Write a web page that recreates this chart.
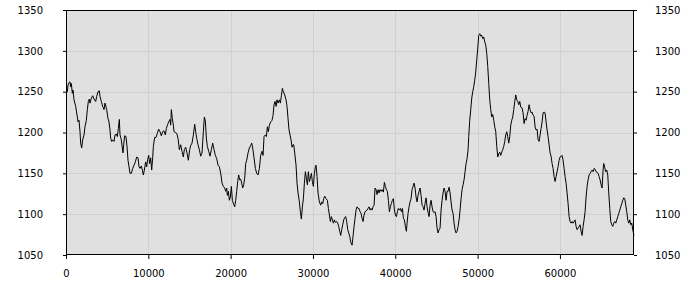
<!DOCTYPE html>
<html>
<head>
<meta charset="utf-8">
<script src="https://cdn.jsdelivr.net/npm/d3@7"></script>
<style>
  body { margin: 0; background: #fff; }
  .axis text { font-family: "DejaVu Sans", Verdana, sans-serif; font-size: 10px; fill: #000; }
</style>
</head>
<body>
<div class="chart-section"></div>
<script>
const distance = [
  0, 162, 243, 365, 486, 567, 648, 770, 851, 972, 1175, 1377, 1458, 1580, 1701, 1782, 1904, 2025, 2187, 2309,
  2471, 2592, 2714, 2835, 2916, 3078, 3240, 3402, 3605, 3726, 3888, 4050, 4131, 4293, 4455, 4617, 4739, 4941, 5103, 5225,
  5346, 5427, 5549, 5670, 5832, 5954, 6116, 6237, 6359, 6480, 6561, 6723, 6845, 6926, 7007, 7128, 7290, 7412, 7533, 7655,
  7776, 7938, 8100, 8262, 8424, 8586, 8748, 8870, 8991, 9153, 9275, 9396, 9518, 9680, 9801, 9923, 10044, 10166, 10287, 10409,
  10530, 10611, 10773, 10935, 11097, 11259, 11421, 11583, 11745, 11907, 12069, 12191, 12353, 12474, 12636, 12717, 12798, 12920, 13041, 13122,
  13284, 13446, 13608, 13770, 13932, 14094, 14256, 14378, 14540, 14702, 14864, 15026, 15147, 15309, 15471, 15633, 15755, 15876, 16038, 16200,
  16362, 16524, 16686, 16808, 16929, 17051, 17172, 17334, 17496, 17658, 17820, 17982, 18144, 18306, 18468, 18630, 18792, 18954, 19116, 19278,
  19400, 19521, 19602, 19724, 19845, 19967, 20088, 20210, 20372, 20493, 20615, 20736, 20858, 20979, 21101, 21222, 21344, 21465, 21587, 21708,
  21830, 21951, 22113, 22275, 22437, 22559, 22680, 22842, 23004, 23166, 23328, 23490, 23652, 23814, 23936, 24057, 24219, 24341, 24462, 24584,
  24705, 24867, 25029, 25151, 25272, 25394, 25515, 25637, 25758, 25920, 26042, 26163, 26285, 26406, 26568, 26730, 26852, 26973, 27095, 27216,
  27338, 27459, 27581, 27662, 27783, 27945, 28067, 28188, 28350, 28472, 28593, 28715, 28836, 28958, 29079, 29201, 29322, 29444, 29565, 29687,
  29808, 29930, 30051, 30173, 30294, 30375, 30497, 30618, 30780, 30942, 31064, 31185, 31307, 31428, 31590, 31752, 31874, 31995, 32117, 32238,
  32360, 32481, 32603, 32724, 32886, 33008, 33129, 33251, 33372, 33494, 33615, 33737, 33858, 33980, 34101, 34223, 34344, 34466, 34587, 34749,
  34871, 34992, 35114, 35235, 35357, 35478, 35600, 35721, 35843, 35964, 36086, 36207, 36329, 36450, 36572, 36693, 36815, 36936, 37058, 37179,
  37301, 37422, 37544, 37665, 37787, 37908, 38030, 38151, 38273, 38394, 38556, 38678, 38799, 38921, 39042, 39164, 39285, 39407, 39528, 39650,
  39771, 39893, 40014, 40136, 40257, 40379, 40500, 40622, 40743, 40865, 40986, 41108, 41229, 41351, 41432, 41553, 41675, 41796, 41918, 42039,
  42161, 42282, 42404, 42525, 42647, 42768, 42890, 43011, 43133, 43254, 43376, 43497, 43619, 43740, 43862, 43983, 44105, 44226, 44348, 44469,
  44591, 44712, 44834, 44955, 45077, 45198, 45320, 45441, 45563, 45684, 45806, 45927, 46049, 46170, 46292, 46413, 46535, 46656, 46778, 46899,
  47021, 47142, 47264, 47385, 47507, 47628, 47750, 47871, 47993, 48114, 48236, 48357, 48479, 48600, 48722, 48843, 48924, 49046, 49167, 49289,
  49410, 49532, 49653, 49775, 49896, 50018, 50139, 50261, 50382, 50504, 50625, 50747, 50868, 50990, 51111, 51233, 51354, 51476, 51597, 51719,
  51840, 51962, 52083, 52205, 52326, 52448, 52569, 52691, 52812, 52934, 53055, 53177, 53298, 53420, 53541, 53663, 53784, 53906, 54027, 54149,
  54270, 54392, 54513, 54635, 54756, 54878, 54999, 55121, 55242, 55404, 55526, 55647, 55769, 55890, 56012, 56133, 56255, 56376, 56498, 56619,
  56741, 56862, 56984, 57105, 57227, 57348, 57470, 57591, 57713, 57834, 57956, 58077, 58199, 58320, 58442, 58563, 58685, 58806, 58928, 59049,
  59171, 59292, 59414, 59535, 59657, 59778, 59900, 60021, 60143, 60264, 60386, 60507, 60629, 60750, 60872, 60993, 61115, 61236, 61358, 61479,
  61601, 61722, 61844, 61965, 62087, 62208, 62330, 62451, 62573, 62694, 62816, 62937, 63059, 63180, 63302, 63423, 63545, 63666, 63788, 63909,
  64031, 64152, 64274, 64395, 64517, 64638, 64760, 64881, 65003, 65124, 65246, 65327, 65448, 65570, 65691, 65813, 65934, 66056, 66177, 66299,
  66420, 66542, 66663, 66785, 66906, 67028, 67149, 67271, 67392, 67514, 67635, 67757, 67878, 68000, 68121, 68243, 68364, 68486, 68607, 68729,
  68850, 69000
];

const elevation = [
  1248, 1250, 1258, 1261, 1262, 1256, 1260, 1248, 1252, 1240, 1232, 1219, 1213, 1215, 1201, 1187, 1181, 1191, 1197, 1207,
  1215, 1228, 1238, 1241, 1236, 1242, 1245, 1241, 1238, 1244, 1250, 1251, 1244, 1238, 1232, 1228, 1236, 1228, 1217, 1213,
  1203, 1193, 1189, 1191, 1189, 1197, 1198, 1195, 1205, 1216, 1197, 1191, 1181, 1175, 1185, 1196, 1195, 1183, 1166, 1158,
  1150, 1150, 1156, 1160, 1164, 1170, 1169, 1158, 1156, 1159, 1154, 1148, 1154, 1164, 1158, 1167, 1172, 1162, 1169, 1154,
  1169, 1183, 1194, 1194, 1199, 1204, 1201, 1196, 1201, 1202, 1197, 1205, 1210, 1213, 1216, 1209, 1228, 1217, 1209, 1201,
  1200, 1199, 1193, 1179, 1185, 1177, 1170, 1179, 1182, 1175, 1166, 1179, 1184, 1187, 1197, 1210, 1201, 1193, 1185, 1179,
  1171, 1175, 1201, 1219, 1214, 1193, 1183, 1177, 1171, 1179, 1187, 1179, 1172, 1168, 1160, 1158, 1150, 1138, 1134, 1132,
  1128, 1132, 1123, 1128, 1117, 1121, 1134, 1117, 1112, 1109, 1117, 1128, 1140, 1148, 1142, 1143, 1138, 1132, 1136, 1144,
  1162, 1166, 1175, 1181, 1184, 1187, 1181, 1169, 1156, 1150, 1148, 1156, 1172, 1177, 1172, 1195, 1197, 1195, 1207, 1201,
  1209, 1213, 1215, 1221, 1234, 1238, 1232, 1240, 1236, 1240, 1236, 1245, 1254, 1250, 1246, 1240, 1232, 1217, 1203, 1197,
  1191, 1182, 1185, 1185, 1175, 1160, 1138, 1126, 1115, 1103, 1094, 1109, 1119, 1138, 1152, 1144, 1136, 1152, 1140, 1144,
  1150, 1140, 1134, 1150, 1158, 1160, 1146, 1126, 1115, 1111, 1115, 1113, 1119, 1122, 1119, 1117, 1107, 1099, 1091, 1097,
  1093, 1089, 1093, 1090, 1091, 1089, 1085, 1079, 1074, 1081, 1087, 1093, 1096, 1097, 1091, 1081, 1077, 1073, 1066, 1062,
  1073, 1085, 1095, 1105, 1109, 1107, 1107, 1103, 1101, 1095, 1091, 1099, 1103, 1104, 1105, 1107, 1109, 1105, 1107, 1105,
  1109, 1111, 1132, 1130, 1124, 1130, 1126, 1130, 1128, 1130, 1127, 1139, 1134, 1130, 1128, 1117, 1103, 1109, 1113, 1117,
  1119, 1105, 1099, 1097, 1103, 1107, 1105, 1107, 1103, 1107, 1095, 1093, 1085, 1079, 1089, 1101, 1109, 1115, 1119, 1130,
  1134, 1138, 1132, 1121, 1115, 1123, 1128, 1132, 1123, 1111, 1109, 1105, 1113, 1120, 1109, 1102, 1097, 1111, 1117, 1109,
  1103, 1102, 1103, 1097, 1083, 1077, 1081, 1083, 1105, 1117, 1126, 1132, 1128, 1117, 1128, 1128, 1133, 1126, 1115, 1105,
  1101, 1089, 1081, 1077, 1079, 1085, 1093, 1105, 1119, 1130, 1136, 1142, 1152, 1162, 1168, 1179, 1195, 1215, 1228, 1242,
  1250, 1256, 1264, 1274, 1289, 1303, 1319, 1321, 1318, 1319, 1315, 1317, 1311, 1307, 1297, 1281, 1260, 1240, 1228, 1219,
  1222, 1215, 1207, 1201, 1183, 1170, 1174, 1176, 1172, 1176, 1179, 1183, 1189, 1197, 1201, 1195, 1187, 1195, 1209, 1215,
  1219, 1228, 1238, 1246, 1240, 1238, 1234, 1238, 1231, 1230, 1224, 1211, 1217, 1215, 1221, 1226, 1234, 1228, 1224, 1225,
  1221, 1220, 1207, 1203, 1204, 1191, 1189, 1197, 1205, 1213, 1224, 1225, 1224, 1213, 1203, 1195, 1185, 1175, 1171, 1162,
  1156, 1146, 1140, 1146, 1152, 1158, 1166, 1170, 1171, 1172, 1166, 1156, 1146, 1138, 1126, 1113, 1097, 1091, 1089, 1091,
  1089, 1091, 1093, 1085, 1081, 1083, 1085, 1087, 1079, 1074, 1085, 1093, 1103, 1121, 1134, 1142, 1148, 1150, 1152, 1154,
  1152, 1156, 1155, 1152, 1151, 1150, 1146, 1142, 1136, 1132, 1154, 1162, 1157, 1152, 1154, 1148, 1126, 1107, 1091, 1087,
  1085, 1089, 1091, 1089, 1093, 1097, 1101, 1105, 1109, 1113, 1117, 1120, 1119, 1111, 1103, 1093, 1089, 1093, 1087, 1089,
  1081, 1074
];

const xTicks = [0, 10000, 20000, 30000, 40000, 50000, 60000];
const yTicks = [1050, 1100, 1150, 1200, 1250, 1300, 1350];

const width = 700;
const height = 300;
const margin = { top: 10, right: 66, bottom: 45, left: 66 };

const points = distance.map((d, i) => ({ x: d, y: elevation[i] }));

const svg = d3
  .select(".chart-section")
  .append("svg")
  .attr("width", width)
  .attr("height", height);

const xScale = d3
  .scaleLinear()
  .domain([0, 69000])
  .range([margin.left, width - margin.right]);

const yScale = d3
  .scaleLinear()
  .domain([1050, 1350])
  .range([height - margin.bottom, margin.top]);

// plot background
svg
  .append("rect")
  .attr("x", margin.left)
  .attr("y", margin.top)
  .attr("width", width - margin.left - margin.right)
  .attr("height", height - margin.top - margin.bottom)
  .attr("fill", "#e0e0e0");

// grid
const grid = svg.append("g").attr("stroke", "#d0d0d0").attr("stroke-width", 1);
grid
  .selectAll("line.v")
  .data(xTicks.slice(1))
  .join("line")
  .attr("class", "v")
  .attr("x1", (d) => Math.round(xScale(d)) + 0.5)
  .attr("x2", (d) => Math.round(xScale(d)) + 0.5)
  .attr("y1", margin.top)
  .attr("y2", height - margin.bottom);
grid
  .selectAll("line.h")
  .data(yTicks.slice(1, -1))
  .join("line")
  .attr("class", "h")
  .attr("x1", margin.left)
  .attr("x2", width - margin.right)
  .attr("y1", (d) => Math.round(yScale(d)) + 0.5)
  .attr("y2", (d) => Math.round(yScale(d)) + 0.5);

// the line
const line = d3
  .line()
  .x((d) => xScale(d.x))
  .y((d) => yScale(d.y));

svg
  .append("path")
  .datum(points)
  .attr("fill", "none")
  .attr("stroke", "#000")
  .attr("stroke-width", 1)
  .attr("stroke-linejoin", "miter")
  .attr("d", line);

// frame
svg
  .append("rect")
  .attr("x", margin.left + 0.5)
  .attr("y", margin.top + 0.5)
  .attr("width", width - margin.left - margin.right - 1)
  .attr("height", height - margin.top - margin.bottom - 1)
  .attr("fill", "none")
  .attr("stroke", "#000");

// axes
const xAxis = d3
  .axisBottom(xScale)
  .tickValues(xTicks)
  .tickFormat(d3.format("d"))
  .tickSize(4)
  .tickPadding(11);

const yAxisLeft = d3
  .axisLeft(yScale)
  .tickValues(yTicks)
  .tickFormat(d3.format("d"))
  .tickSize(3)
  .tickPadding(20);

const yAxisRight = d3
  .axisRight(yScale)
  .tickValues(yTicks)
  .tickFormat(d3.format("d"))
  .tickSize(3)
  .tickPadding(18);

svg
  .append("g")
  .attr("class", "axis")
  .attr("transform", `translate(0,${height - margin.bottom})`)
  .call(xAxis)
  .call((g) => g.select(".domain").remove());

svg
  .append("g")
  .attr("class", "axis")
  .attr("transform", `translate(${margin.left},0)`)
  .call(yAxisLeft)
  .call((g) => g.select(".domain").remove());

svg
  .append("g")
  .attr("class", "axis")
  .attr("transform", `translate(${width - margin.right},0)`)
  .call(yAxisRight)
  .call((g) => g.select(".domain").remove());

svg.selectAll(".axis text").attr("font-family", null).attr("font-size", null);
</script>
</body>
</html>
